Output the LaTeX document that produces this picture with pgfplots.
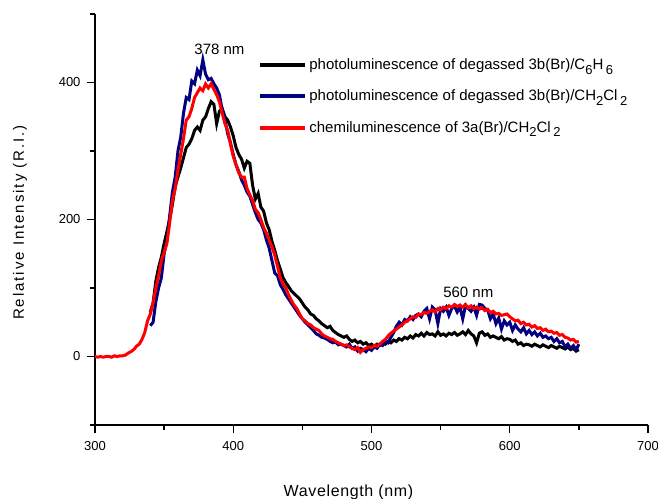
\documentclass[border=0pt]{standalone}
\usepackage{fontspec}
\setmainfont{Liberation Sans}
\usepackage{pgfplots}
\pgfplotsset{compat=1.18}
\definecolor{navy}{RGB}{0,0,128}
\newcommand{\sub}[1]{\raisebox{-4.5bp}{\fontsize{13bp}{14bp}\selectfont #1}}
\begin{document}
\begin{tikzpicture}
\begin{axis}[name=ax,
  scale only axis, width=553bp, height=411bp,
  xmin=300, xmax=700, ymin=-100, ymax=500,
  axis lines*=left,
  axis line style={line width=1.3bp},
  tick align=outside,
  major tick length=8bp, minor tick length=5bp,
  every tick/.style={line width=1.3bp, black},
  xtick={300,400,500,600,700}, minor xtick={350,450,550,650},
  ytick={0,200,400}, minor ytick={-100,100,300,500},
  /pgf/number format/assume math mode=true,
  ticklabel style={font=\fontsize{13bp}{15bp}\selectfont},
  xticklabel style={yshift=-5bp},
  yticklabel style={xshift=-3bp},
  clip=false,
  legend cell align=left,
  legend style={at={(axis cs:418,438)}, anchor=north west, draw=none, fill=none,
    font=\fontsize{15bp}{17bp}\selectfont, row sep=15bp, inner sep=0pt},
  legend image code/.code={\draw[#1,line width=4bp] (0bp,0bp) -- (45bp,0bp);},
]
\addplot[black, line width=3bp] coordinates {
(340,65)(342,78)(344,110)(346,130)(348,145)(350,165)(352,182)(354,200)(356,222)(358,248)
(360,262)(362,275)(364,290)(366,305)(368,310)(370,318)(372,330)(374,335)(376,330)(378,345)
(380,350)(382,362)(384,372)(386,368)(388,340)(390,358)(392,362)(394,350)(396,345)(398,335)
(400,322)(402,305)(404,295)(406,288)(408,275)(410,285)(412,282)(414,250)(416,230)(418,238)
(420,218)(422,212)(424,195)(426,185)(428,168)(430,155)(432,140)(434,128)(436,115)(438,108)
(440,102)(442,96)(444,92)(446,88)(448,84)(450,78)(452,72)(454,68)(456,62)(458,60)
(460,55)(462,52)(464,48)(466,45)(468,42)(470,44)(472,38)(474,35)(476,32)(478,30)
(480,28)(482,30)(484,25)(486,22)(488,24)(490,20)(492,22)(494,18)(496,20)(498,16)
(500,18)(502,15)(504,18)(506,16)(508,20)(510,18)(512,22)(514,20)(516,24)(518,22)
(520,26)(522,24)(524,28)(526,26)(528,30)(530,27)(532,32)(534,30)(536,34)(538,30)
(540,35)(542,32)(544,33)(546,30)(548,36)(550,31)(552,33)(554,30)(556,34)(558,32)
(560,35)(562,31)(564,33)(566,36)(568,32)(570,38)(572,33)(574,30)(576,20)(578,34)
(580,36)(582,31)(584,33)(586,28)(588,30)(590,28)(592,26)(594,29)(596,24)(598,26)
(600,25)(602,22)(604,24)(606,18)(608,20)(610,16)(612,18)(614,17)(616,15)(618,18)
(620,16)(622,14)(624,17)(626,15)(628,13)(630,16)(632,14)(634,12)(636,15)(638,13)
(640,11)(642,14)(644,10)(646,12)(648,8)(650,10)
};
\addlegendentry{photoluminescence of degassed 3b(Br)/C\sub{6}H\,\sub{6}}
\addplot[navy, line width=3bp] coordinates {
(340,45)(342,50)(344,80)(346,100)(348,115)(350,150)(352,170)(354,205)(356,240)(358,262)
(360,300)(362,320)(364,355)(366,378)(368,375)(370,402)(372,398)(374,418)(376,410)(378,433)
(380,412)(382,404)(384,406)(386,398)(388,392)(390,382)(392,360)(394,345)(396,325)(398,312)
(400,295)(402,280)(404,270)(406,258)(408,250)(410,240)(412,234)(414,222)(416,210)(418,200)
(420,195)(422,185)(424,170)(426,158)(428,140)(430,122)(432,118)(434,105)(436,98)(438,90)
(440,84)(442,78)(444,72)(446,66)(448,60)(450,55)(452,50)(454,46)(456,42)(458,38)
(460,33)(462,31)(464,28)(466,27)(468,25)(470,22)(472,20)(474,21)(476,17)(478,18)
(480,16)(482,14)(484,18)(486,12)(488,14)(490,8)(492,12)(494,10)(496,7)(498,12)
(500,9)(502,14)(504,12)(506,18)(508,16)(510,22)(512,20)(514,28)(516,35)(518,44)
(520,50)(522,46)(524,54)(526,52)(528,58)(530,54)(532,60)(534,62)(536,58)(538,66)
(540,70)(542,55)(544,72)(546,68)(548,48)(550,70)(552,66)(554,72)(556,60)(558,70)
(560,74)(562,65)(564,72)(566,55)(568,74)(570,70)(572,66)(574,72)(576,60)(578,76)
(580,75)(582,70)(584,68)(586,55)(588,62)(590,48)(592,56)(594,40)(596,52)(598,46)
(600,50)(602,38)(604,46)(606,40)(608,36)(610,42)(612,33)(614,38)(616,32)(618,36)
(620,30)(622,34)(624,28)(626,30)(628,26)(630,28)(632,22)(634,26)(636,20)(638,22)
(640,14)(642,18)(644,12)(646,16)(648,10)(650,18)
};
\addlegendentry{photoluminescence of degassed 3b(Br)/CH\sub{2}Cl\,\sub{2}}
\addplot[red, line width=3bp] coordinates {
(300,0)(302,-1)(304,0)(306,-1)(308,0)(310,0)(312,-1)(314,1)(316,0)(318,1)
(320,1)(322,2)(324,5)(326,7)(328,10)(330,15)(332,18)(334,25)(336,35)(338,52)
(340,62)(342,78)(344,100)(346,118)(348,140)(350,152)(352,165)(354,195)(356,228)(358,245)
(360,272)(362,295)(364,318)(366,345)(368,350)(370,362)(372,378)(374,385)(376,392)(378,388)
(380,398)(382,392)(384,398)(386,390)(388,382)(390,372)(392,355)(394,340)(396,330)(398,310)
(400,292)(402,280)(404,268)(406,262)(408,262)(410,245)(412,236)(414,228)(416,215)(418,210)
(420,200)(422,188)(424,180)(426,170)(428,160)(430,148)(432,132)(434,115)(436,106)(438,100)
(440,90)(442,82)(444,75)(446,70)(448,62)(450,55)(452,52)(454,48)(456,46)(458,42)
(460,40)(462,38)(464,33)(466,30)(468,28)(470,26)(472,25)(474,22)(476,20)(478,18)
(480,16)(482,17)(484,14)(486,12)(488,10)(490,13)(492,6)(494,10)(496,12)(498,14)
(500,13)(502,16)(504,15)(506,18)(508,22)(510,25)(512,30)(514,34)(516,37)(518,40)
(520,43)(522,46)(524,50)(526,52)(528,55)(530,58)(532,57)(534,62)(536,61)(538,64)
(540,63)(542,66)(544,68)(546,65)(548,70)(550,68)(552,72)(554,70)(556,74)(558,72)
(560,76)(562,73)(564,75)(566,72)(568,76)(570,71)(572,74)(574,70)(576,72)(578,69)
(580,71)(582,67)(584,69)(586,64)(588,66)(590,62)(592,63)(594,60)(596,61)(598,62)
(600,58)(602,55)(604,52)(606,53)(608,48)(610,50)(612,46)(614,47)(616,43)(618,45)
(620,41)(622,42)(624,38)(626,40)(628,36)(630,37)(632,34)(634,35)(636,31)(638,32)
(640,28)(642,27)(644,24)(646,25)(648,21)(650,22)
};
\addlegendentry{chemiluminescence of 3a(Br)/CH\sub{2}Cl\,\sub{2}}
\node[font=\fontsize{15bp}{17bp}\selectfont] at (axis cs:390,448) {378 nm};
\node[font=\fontsize{15bp}{17bp}\selectfont] at (axis cs:570,94) {560 nm};
\end{axis}
\node[font=\fontsize{16bp}{18bp}\selectfont\addfontfeature{LetterSpace=4}] at ([xshift=-23bp,yshift=-67bp]ax.south) {Wavelength (nm)};
\node[rotate=90, font=\fontsize{15bp}{17bp}\selectfont\addfontfeature{LetterSpace=13}] at ([xshift=-75bp,yshift=-3bp]ax.west) {Relative Intensity (R.I.)};
\pgfresetboundingbox
\path ([xshift=-95bp,yshift=-74bp]ax.south west) rectangle ++(658bp,499bp);
\end{tikzpicture}
\end{document}
